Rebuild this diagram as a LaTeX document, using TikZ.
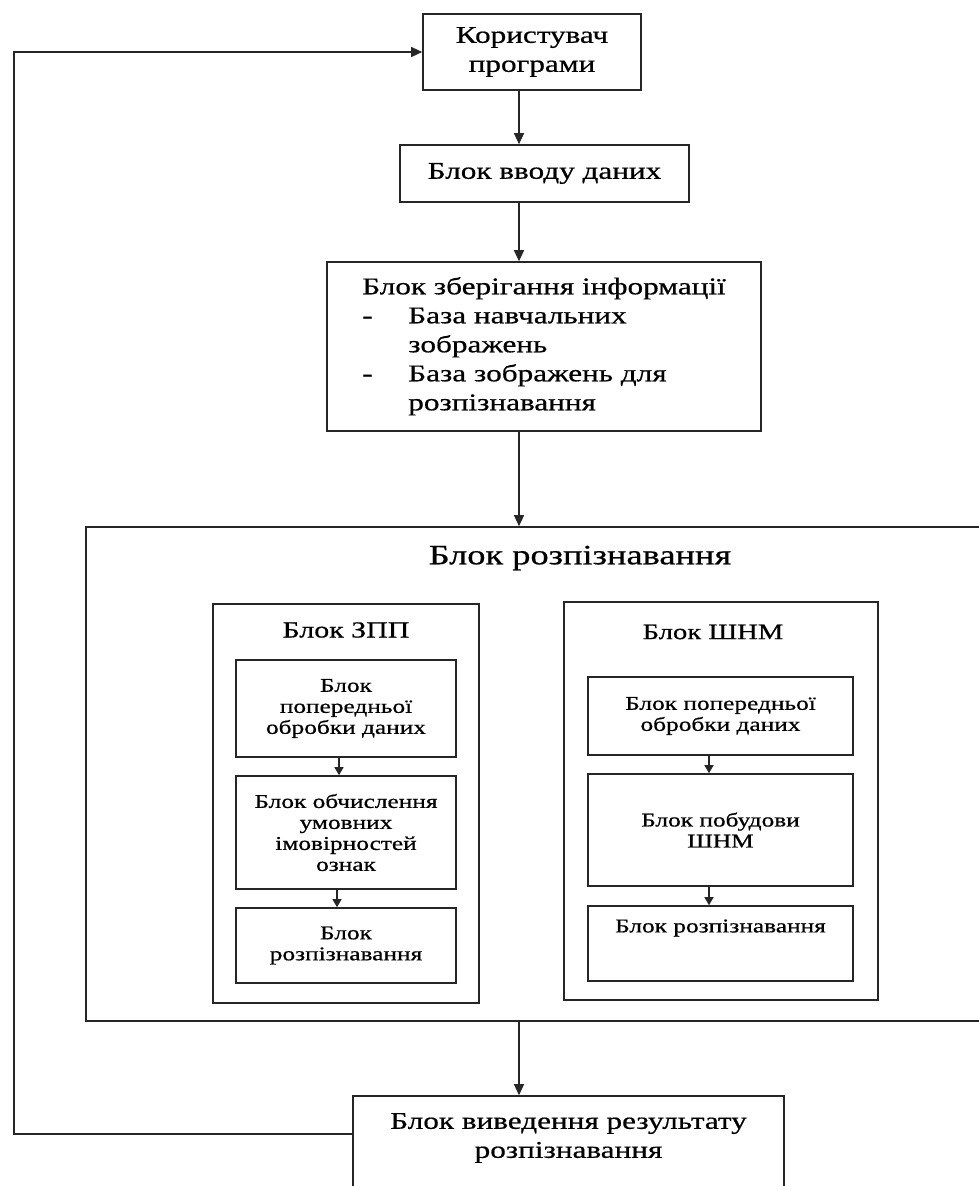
\documentclass[tikz,border=0pt]{standalone}
\usepackage{fontspec}
\setmainfont{Liberation Serif}[FakeStretch=1.3,FakeBold=0.6]
\usetikzlibrary{arrows.meta,calc}
\begin{document}
\begin{tikzpicture}[x=1pt,y=1pt,
  box/.style={draw=black!85,line width=1.6pt,rectangle,inner sep=0pt,align=center},
  big/.style={font=\fontsize{24}{29}\selectfont},
  small/.style={font=\fontsize{19.5}{21}\selectfont},
  arr/.style={draw=black!85,line width=1.3pt,-{Triangle[width=10pt,length=11pt]}},
  sarr/.style={draw=black!85,line width=1.2pt,-{Triangle[width=9pt,length=8pt]}}]
\clip (0,0) rectangle (979,-1186);
\fill[white] (0,0) rectangle (979,-1186);
\coordinate (ax) at (519,0);
\coordinate (fb1) at (14,-1134);
\coordinate (fb2) at (14,-52);

\node[box,big,minimum width=218pt,minimum height=76pt] (user) at (532,-52) {Користувач\\програми};
\node[box,big,minimum width=289pt,minimum height=57pt] (input) at (544.5,-173.5) {Блок вводу даних};
\node[box,big,minimum width=434pt,minimum height=169pt,align=left] (store) at (544,-346.5)
 {\begin{tabular}{@{}l@{}l@{}}\multicolumn{2}{@{}l@{}}{Блок зберігання інформації}\\
 \makebox[46pt][l]{-}&База навчальних\\
 &зображень\\
 -&База зображень для\\
 &розпізнавання\end{tabular}};

\node[box,minimum width=930pt,minimum height=494pt] (rec) at (551,-774) {};
\node[font=\fontsize{28}{32}\selectfont] (rect) at (580,-558) {Блок розпізнавання};

\node[box,minimum width=266pt,minimum height=399pt] (zpp) at (346,-803.5) {};
\node[font=\fontsize{23}{26}\selectfont] (zppt) at (346,-630) {Блок ЗПП};
\node[box,small,minimum width=220pt,minimum height=97pt] (z1) at (346,-708.5) {Блок\\попередньої\\обробки даних};
\node[box,small,minimum width=220pt,minimum height=113pt] (z2) at (346,-832.5) {Блок обчислення\\умовних\\імовірностей\\ознак};
\node[box,small,minimum width=220pt,minimum height=75pt] (z3) at (346,-945.5) {Блок\\розпізнавання};

\node[box,minimum width=314pt,minimum height=398pt] (shnm) at (721,-801) {};
\node[font=\fontsize{22}{25}\selectfont] (shnmt) at (713,-632) {Блок ШНМ};
\node[box,small,minimum width=265pt,minimum height=78pt] (s1) at (720.5,-716) {Блок попередньої\\обробки даних};
\node[box,small,minimum width=265pt,minimum height=112pt] (s2) at (720.5,-830) {Блок побудови\\ШНМ};
\node[box,small,minimum width=265pt,minimum height=75pt] (s3) at (720.5,-943.5) {};
\node[small] (s3t) at (720.5,-928) {Блок розпізнавання};

\node[box,big,minimum width=431pt,minimum height=100pt] (out) at (568.5,-1146) {};
\node[big,align=center] (outt) at (568.5,-1138) {Блок виведення результату\\розпізнавання};

\draw[arr] (user.south -| ax) -- (input.north -| ax);
\draw[arr] (input.south -| ax) -- (store.north -| ax);
\draw[arr] (store.south -| ax) -- (rec.north -| ax);
\draw[arr] (rec.south -| ax) -- (out.north -| ax);
\draw[sarr] (z1.south -| 339,0) -- (z2.north -| 339,0);
\draw[sarr] (z2.south -| 337,0) -- (z3.north -| 337,0);
\draw[sarr] (s1.south -| 709,0) -- (s2.north -| 709,0);
\draw[sarr] (s2.south -| 709,0) -- (s3.north -| 709,0);
\draw[arr] (out.west |- fb1) -- (fb1) -- (fb2) -- (user.west);
\end{tikzpicture}
\end{document}
